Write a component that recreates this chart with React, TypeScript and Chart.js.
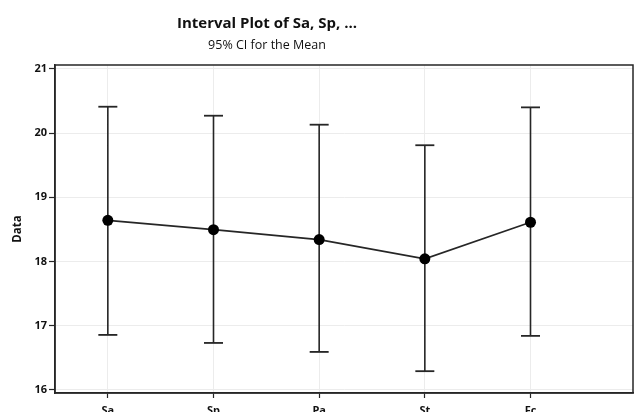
import React, { useEffect, useRef } from "react";
import { Chart, registerables } from "chart.js";

Chart.register(...registerables);

const categories = ["Sa", "Sp", "Pa", "St", "Fc"];
const means = [18.64, 18.495, 18.34, 18.04, 18.61];
const upper = [20.41, 20.27, 20.13, 19.81, 20.4];
const lower = [16.855, 16.73, 16.59, 16.29, 16.84];
const yTicks = [16, 17, 18, 19, 20, 21];
const titleText = "Interval Plot of Sa, Sp, ...";
const subtitleText = "95% CI for the Mean";
const yTitle = "Data";

const FONT = "'Open Sans', 'Noto Sans', sans-serif";
const DARK = "#262626";

export default function App() {
  const ref = useRef<HTMLCanvasElement | null>(null);

  useEffect(() => {
    document.body.style.margin = "0";
    document.body.style.overflow = "hidden";
    const canvas = ref.current;
    if (!canvas) return;

    const ciData: any[] = [];
    categories.forEach((_, i) => {
      ciData.push({ x: i, y: lower[i] });
      ciData.push({ x: i, y: upper[i] });
      ciData.push({ x: i, y: null });
    });
    const meanData = categories.map((_, i) => ({ x: i, y: means[i] }));

    const titlePlugin = {
      id: "titles",
      afterDraw(chart: any) {
        const ctx = chart.ctx;
        ctx.save();
        ctx.fillStyle = "#111";
        ctx.textAlign = "center";
        ctx.textBaseline = "middle";
        ctx.font = `bold 15px ${FONT}`;
        ctx.fillText(titleText, 267, 24);
        ctx.font = `12.5px ${FONT}`;
        ctx.fillText(subtitleText, 267, 45);
        const a = chart.chartArea;
        ctx.strokeStyle = DARK;
        ctx.lineWidth = 1.5;
        ctx.strokeRect(a.left, a.top, a.right - a.left, a.bottom - a.top);
        ctx.restore();
      },
    };

    const chart = new Chart(canvas, {
      type: "line",
      data: {
        datasets: [
          {
            label: "Mean",
            data: meanData,
            borderColor: DARK,
            borderWidth: 1.6,
            pointRadius: 5.5,
            pointBackgroundColor: "#000",
            pointBorderColor: "#000",
            pointBorderWidth: 0,
            tension: 0,
            order: 0,
          },
          {
            label: "95% CI",
            data: ciData,
            borderColor: DARK,
            borderWidth: 1.6,
            pointStyle: "line",
            pointRadius: 9.5,
            pointBorderColor: DARK,
            pointBorderWidth: 1.8,
            spanGaps: false,
            order: 1,
          },
        ],
      },
      options: {
        animation: false,
        responsive: false,
        maintainAspectRatio: false,
        layout: { autoPadding: false, padding: { left: 0, right: 2, top: 65, bottom: 0 } },
        plugins: {
          legend: { display: false },
          tooltip: { enabled: false },
          title: { display: false },
        },
        scales: {
          x: {
            type: "linear",
            min: -0.5,
            max: 4.97,
            afterFit(scale: any) {
              scale.height = 19;
              scale.paddingLeft = 0;
              scale.paddingRight = 0;
            },
            afterBuildTicks(scale: any) {
              scale.ticks = categories.map((_, i) => ({ value: i }));
            },
            ticks: {
              autoSkip: false,
              maxRotation: 0,
              padding: 6,
              color: "#111",
              font: { family: FONT, size: 11, weight: "bold" },
              callback: (v: any) => categories[Math.round(Number(v))] ?? "",
            },
            grid: {
              color: "#ececec",
              lineWidth: 1,
              tickColor: DARK,
              tickLength: 5,
              tickWidth: 1.2,
            },
            border: { display: true, color: DARK, width: 1.5 },
          },
          y: {
            type: "linear",
            min: 15.95,
            max: 21.06,
            afterFit(scale: any) {
              scale.width = 55;
            },
            afterBuildTicks(scale: any) {
              scale.ticks = yTicks.map((v) => ({ value: v }));
            },
            ticks: {
              padding: 2,
              color: "#111",
              font: { family: FONT, size: 11, weight: "bold" },
            },
            grid: {
              color: "#ececec",
              lineWidth: 1,
              tickColor: DARK,
              tickLength: 6,
              tickWidth: 1.2,
            },
            border: { display: true, color: DARK, width: 1.5 },
            title: {
              display: true,
              text: yTitle,
              color: "#111",
              font: { family: FONT, size: 11.5, weight: "bold" },
              padding: { top: 11, bottom: 0 },
            },
          },
        },
      },
      plugins: [titlePlugin],
    } as any);

    return () => chart.destroy();
  }, []);

  return (
    <div style={{ position: "absolute", left: 0, top: 0, width: 635, height: 412, overflow: "hidden" }}>
      <canvas ref={ref} width={635} height={412} style={{ width: 635, height: 412 }} />
    </div>
  );
}
